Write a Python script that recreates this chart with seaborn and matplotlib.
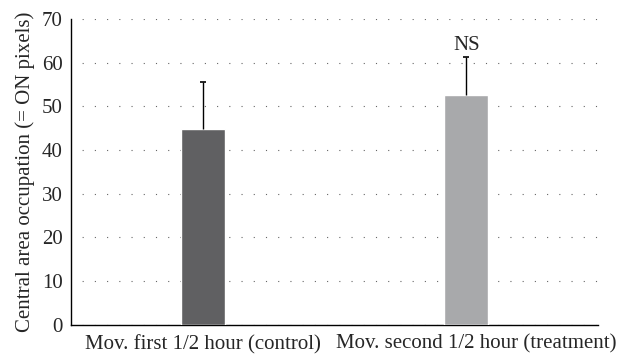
import numpy as np
import pandas as pd
import matplotlib
matplotlib.use('Agg')
import matplotlib.pyplot as plt
import matplotlib.transforms as mtransforms
import seaborn as sns

# data
categories = ['Mov. first 1/2 hour (control)', 'Mov. second 1/2 hour (treatment)']
means = [44.9, 52.6]
upper_err = [10.6, 8.6]
bar_colors = ['#5f6063', '#a7a9ac']
sig_labels = ['', 'NS']

df = pd.DataFrame({'group': categories, 'value': means})

sns.set_style('white')
plt.rcParams['font.family'] = ['Liberation Serif', 'DejaVu Serif']

fig = plt.figure(figsize=(6.23, 3.57), dpi=100)
ax = fig.add_axes([0.114, 0.09, 0.846, 0.857])

sns.barplot(data=df, x='group', y='value', hue='group', palette=bar_colors,
            width=0.167, legend=False, ax=ax, errorbar=None, zorder=3)

# upper-only error bars
x = np.arange(len(categories))
tops = np.array(means) + np.array(upper_err)
ax.vlines(x, means, tops, color='black', linewidth=1.0, zorder=4)
ax.plot(x, tops, linestyle='none', marker='_', markersize=4,
        markeredgewidth=1.2, color='black', zorder=4)

for xi, t, s in zip(x, tops, sig_labels):
    if s:
        ax.text(xi, t + 0.6, s, ha='center', va='bottom', fontsize=15)

ax.set_ylim(0, 70)
ax.set_xlim(-0.5, 1.5)
ax.set_yticks(range(0, 71, 10))
ax.yaxis.grid(True, linestyle=(1, (1, 10)), color='#666666', linewidth=0.8, zorder=0)
ax.xaxis.grid(False)

# category boundary ticks on x axis
ax.set_xticks([-0.5, 0.5, 1.5], minor=False)
ax.set_xticklabels([])
ax.set_xticks(x, minor=True)
ax.set_xticklabels(categories, minor=True, fontsize=15)
ax.tick_params(axis='x', which='major', direction='out', length=4, width=0.8, color='black')
ax.tick_params(axis='x', which='minor', length=0, pad=7)
ax.tick_params(axis='y', direction='out', length=4, width=0.8, color='black', labelsize=15, pad=2)

# second label sits a little to the right in the original
lbl = ax.get_xticklabels(minor=True)[1]
lbl.set_transform(lbl.get_transform() + mtransforms.ScaledTranslation(10 / 100, 0, fig.dpi_scale_trans))

ax.set_xlabel('')
ax.set_ylabel('Central area occupation (= ON pixels)', fontsize=15, labelpad=5)

for side in ['top', 'right']:
    ax.spines[side].set_visible(False)
for side in ['left', 'bottom']:
    ax.spines[side].set_color('black')
    ax.spines[side].set_linewidth(1.0)

fig.savefig('out.png', dpi=100)
